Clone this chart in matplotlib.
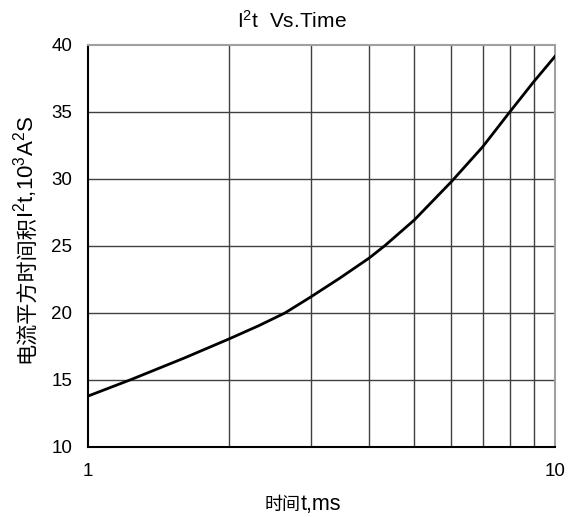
import matplotlib
matplotlib.use("Agg")
import matplotlib.pyplot as plt
from matplotlib.ticker import FixedLocator, FixedFormatter, NullFormatter

plt.rcParams["font.family"] = ["Liberation Sans", "Noto Sans CJK SC", "DejaVu Sans"]
plt.rcParams["mathtext.fontset"] = "custom"
plt.rcParams["mathtext.rm"] = "Liberation Sans"
plt.rcParams["mathtext.it"] = "Liberation Sans:italic"
plt.rcParams["mathtext.bf"] = "Liberation Sans:bold"

W, H = 576, 517

time_ms = [1, 1.24, 1.61, 2, 2.32, 2.64, 3, 3.46, 4, 4.33, 5, 6, 7, 8, 9, 10]
i2t = [13.8, 15.05, 16.65, 18.05, 19.05, 20.0, 21.2, 22.6, 24.1, 25.05, 26.95,
       29.8, 32.4, 35.0, 37.25, 39.15]

x_ticks = [1, 10]
x_tick_labels = ["1", "10"]
x_grid = [2, 3, 4, 5, 6, 7, 8, 9]
y_ticks = [10, 15, 20, 25, 30, 35, 40]

title = "I$^2$t  Vs.Time"
xlabel_cn, xlabel_en = "时间", "t,ms"
ylabel_cn, ylabel_en = "电流平方时间积", "I$^2$t,10$^3$A$^2$S"

fig = plt.figure(figsize=(W / 100, H / 100), dpi=100)
ax = fig.add_axes([88 / W, 1 - 447 / H, 467 / W, 402 / H])

ax.set_xscale("log")
ax.set_xlim(1, 10)
ax.set_ylim(10, 40)
ax.xaxis.set_major_locator(FixedLocator(x_ticks))
ax.xaxis.set_major_formatter(FixedFormatter(x_tick_labels))
ax.xaxis.set_minor_locator(FixedLocator(x_grid))
ax.xaxis.set_minor_formatter(NullFormatter())
ax.set_yticks(y_ticks)

for xv in x_grid:
    ax.axvline(xv, color="#404040", lw=1.0, zorder=1)
for yv in y_ticks[1:-1]:
    ax.axhline(yv, color="#404040", lw=1.0, zorder=1)

ax.plot(time_ms, i2t, color="black", lw=2.0, zorder=3, solid_joinstyle="round")

ax.tick_params(axis="both", which="both", length=0, labelsize=13.5, pad=11.5)
for side in ["left", "bottom"]:
    ax.spines[side].set_color("black")
    ax.spines[side].set_linewidth(1.5)
for side in ["top", "right"]:
    ax.spines[side].set_color("#a0a0a0")
    ax.spines[side].set_linewidth(1.5)

# title is centred on the figure, not the axes
fig.text(292 / W, 1 - 28 / H, title, ha="center", va="baseline", fontsize=15)

renderer = fig.canvas.get_renderer()

# x label: chinese part and latin part drawn side by side
t1 = fig.text(265 / W, 1 - 510 / H, xlabel_cn, ha="left", va="baseline",
              fontfamily="Noto Sans CJK SC", fontsize=13)
w1 = t1.get_window_extent(renderer).width
fig.text((265 + w1) / W, 1 - 510 / H, xlabel_en, ha="left", va="baseline", fontsize=15.5)

# y label, rotated, built from two pieces sharing one baseline
t2 = fig.text(33 / W, 1 - 363 / H, ylabel_cn, rotation=90, rotation_mode="anchor",
              ha="left", va="baseline", fontfamily="Noto Sans CJK SC", fontsize=15.2)
h2 = t2.get_window_extent(renderer).height - 3
fig.text(33 / W, 1 - (363 - h2) / H, ylabel_en, rotation=90, rotation_mode="anchor",
         ha="left", va="baseline", fontsize=16)

fig.savefig("out.png", dpi=100)
